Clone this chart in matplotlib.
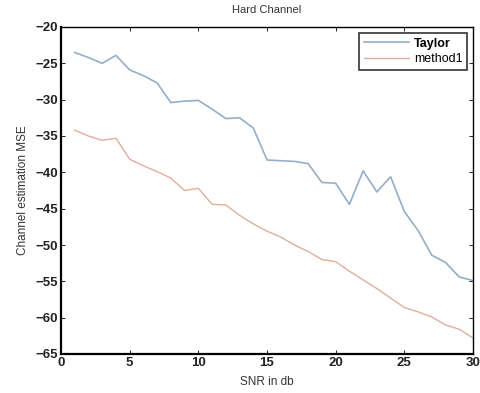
import matplotlib
matplotlib.use('Agg')
import matplotlib.pyplot as plt

plt.rcParams['font.family'] = ['Liberation Sans', 'DejaVu Sans']

snr = list(range(1, 31))
taylor = [-23.5, -24.2, -25.0, -23.9, -25.9, -26.7, -27.7, -30.4, -30.2, -30.1,
          -31.3, -32.6, -32.5, -33.9, -38.3, -38.4, -38.5, -38.8, -41.4, -41.5,
          -44.4, -39.8, -42.7, -40.6, -45.4, -48.0, -51.4, -52.4, -54.4, -54.9]
method1 = [-34.2, -35.0, -35.6, -35.3, -38.2, -39.1, -39.9, -40.8, -42.5, -42.2,
           -44.4, -44.5, -45.9, -47.1, -48.1, -48.9, -50.0, -50.9, -52.0, -52.3,
           -53.6, -54.8, -56.0, -57.3, -58.6, -59.2, -59.9, -61.0, -61.6, -62.8]

fig = plt.figure(figsize=(4.81, 3.93), dpi=100)
ax = fig.add_axes([61/481, 1 - 354/393, 412/481, 327/393])

ax.plot(snr, taylor, color='#94aec8', lw=1.2, label='Taylor')
ax.plot(snr, method1, color='#e0ae9c', lw=1.0, label='method1')

ax.set_xlim(0, 30)
ax.set_ylim(-65, -20)
ax.set_xticks(range(0, 31, 5))
ax.set_yticks(range(-65, -19, 5))
ax.tick_params(direction='in', top=True, right=True, length=3, width=0.6,
               labelsize=9.5, pad=2)
for lab in ax.get_xticklabels() + ax.get_yticklabels():
    lab.set_fontweight('bold')
    lab.set_color('#222222')
for s in ['left', 'bottom']:
    ax.spines[s].set_linewidth(1.6)
for s in ['top', 'right']:
    ax.spines[s].set_linewidth(1.0)

ax.set_title('Hard Channel', fontsize=8, color='#333333', pad=10)
ax.set_xlabel('SNR in db', fontsize=8.5, color='#333333', labelpad=5)
ax.set_ylabel('Channel estimation MSE', fontsize=8.5, color='#333333', labelpad=5)

leg = ax.legend(loc='upper right', fontsize=9, frameon=True, fancybox=False,
                edgecolor='black', handlelength=3.6, borderaxespad=0.5,
                borderpad=0.35, labelspacing=0.3, handletextpad=0.4)
leg.get_frame().set_linewidth(1.2)
leg.get_texts()[0].set_fontweight('bold')

fig.savefig('out.png', dpi=100)
